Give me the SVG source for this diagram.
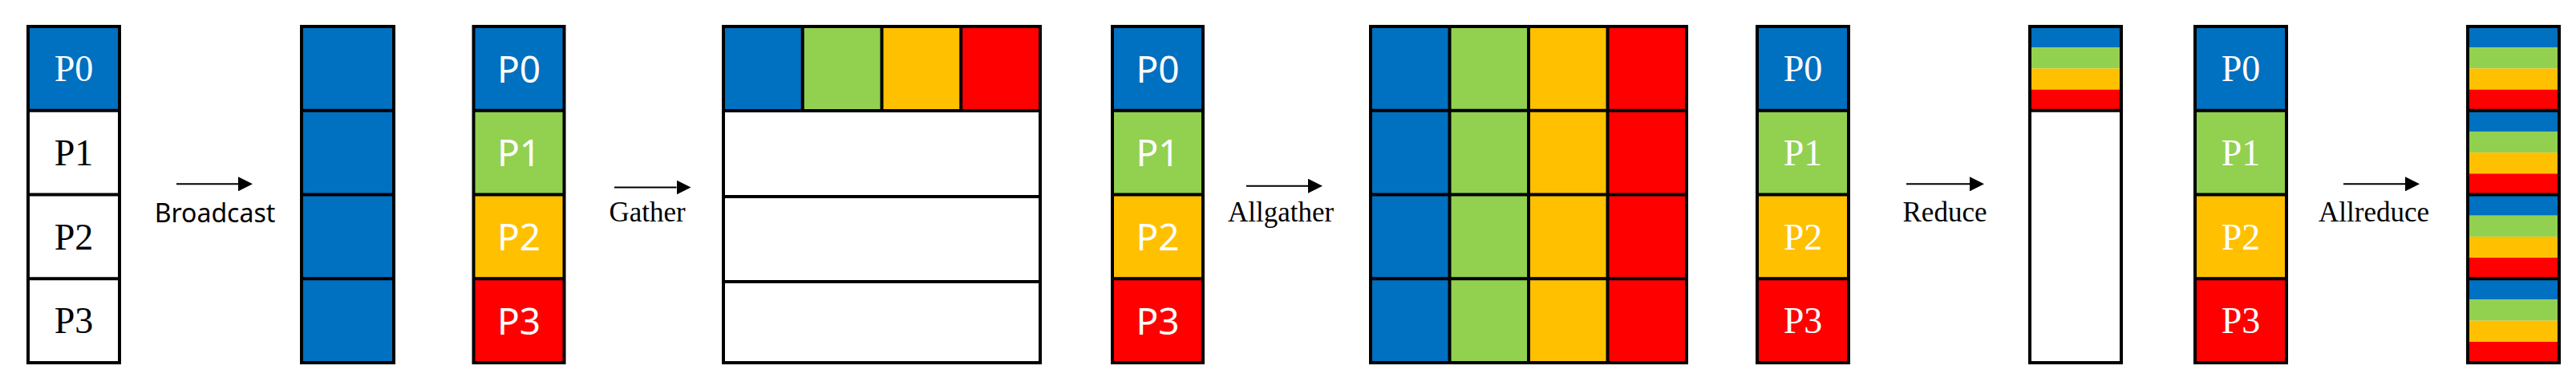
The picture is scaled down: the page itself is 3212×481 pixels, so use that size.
<svg xmlns="http://www.w3.org/2000/svg" width="3212" height="481" viewBox="0 0 3212 481">
<style>
.b{fill:#0070C0}.g{fill:#92D050}.y{fill:#FFC000}.r{fill:#FF0000}.w{fill:#FFFFFF}
.frame{fill:none;stroke:#000;stroke-width:4}
.grid{stroke:#000;stroke-width:4;fill:none}
.ps{font-family:"Liberation Serif","Times New Roman",serif;font-size:46px;text-anchor:middle}
.pn{font-family:"Noto Sans","Open Sans",sans-serif;font-size:46px;text-anchor:middle}
.lbl{font-family:"Liberation Serif","Times New Roman",serif;font-size:35px;text-anchor:middle;fill:#000}
.lbls{font-family:"Noto Sans","Open Sans",sans-serif;font-size:32px;text-anchor:middle;fill:#000}
.wt{fill:#FFFFFF}.bt{fill:#000000}
.conn{stroke:#000;stroke-width:2;fill:none}
</style>
<defs>
<marker id="arrow" viewBox="0 0 18 18" refX="0" refY="9" markerWidth="18" markerHeight="18" markerUnits="userSpaceOnUse" orient="auto">
<path d="M0,0 L18,9 L0,18 z" fill="#000"/>
</marker>
</defs>
<rect x="0" y="0" width="3212" height="481" fill="#FFFFFF"/>

<!-- Broadcast input -->
<g id="bcast-in">
<rect class="b" x="35" y="33" width="114" height="104.75"/>
<rect class="w" x="35" y="137.75" width="114" height="314.25"/>
<rect class="frame" x="35" y="33" width="114" height="419"/>
<path class="grid" d="M35,137.75H149M35,242.5H149M35,347.25H149"/>
<text class="ps wt" x="92" y="101">P0</text>
<text class="ps bt" x="92" y="206">P1</text>
<text class="ps bt" x="92" y="310.5">P2</text>
<text class="ps bt" x="92" y="415">P3</text>
</g>

<g id="bcast-out">
<rect class="b" x="376" y="33" width="115" height="419"/>
<rect class="frame" x="376" y="33" width="115" height="419"/>
<path class="grid" d="M376,137.75H491M376,242.5H491M376,347.25H491"/>
</g>

<!-- Gather -->
<g id="gather-in">
<rect class="b" x="590.5" y="33" width="113" height="104.75"/>
<rect class="g" x="590.5" y="137.75" width="113" height="104.75"/>
<rect class="y" x="590.5" y="242.5" width="113" height="104.75"/>
<rect class="r" x="590.5" y="347.25" width="113" height="104.75"/>
<rect class="frame" x="590.5" y="33" width="113" height="419"/>
<path class="grid" d="M590.5,137.75H703.5M590.5,242.5H703.5M590.5,347.25H703.5"/>
<text class="pn wt" x="647" y="102.5">P0</text>
<text class="pn wt" x="647" y="207">P1</text>
<text class="pn wt" x="647" y="312">P2</text>
<text class="pn wt" x="647" y="416.5">P3</text>
</g>

<g id="gather-out">
<rect class="b" x="902" y="33" width="98.75" height="105"/>
<rect class="g" x="1000.75" y="33" width="98.75" height="105"/>
<rect class="y" x="1099.5" y="33" width="98.75" height="105"/>
<rect class="r" x="1198.25" y="33" width="98.75" height="105"/>
<rect class="w" x="902" y="138" width="395" height="314"/>
<rect class="frame" x="902" y="33" width="395" height="419"/>
<path class="grid" d="M902,138H1297M902,245H1297M902,351H1297M1000.75,33V138M1099.5,33V138M1198.25,33V138"/>
</g>

<!-- Allgather -->
<g id="allgather-in">
<rect class="b" x="1387" y="33" width="113" height="104.75"/>
<rect class="g" x="1387" y="137.75" width="113" height="104.75"/>
<rect class="y" x="1387" y="242.5" width="113" height="104.75"/>
<rect class="r" x="1387" y="347.25" width="113" height="104.75"/>
<rect class="frame" x="1387" y="33" width="113" height="419"/>
<path class="grid" d="M1387,137.75H1500M1387,242.5H1500M1387,347.25H1500"/>
<text class="pn wt" x="1443.5" y="102.5">P0</text>
<text class="pn wt" x="1443.5" y="207">P1</text>
<text class="pn wt" x="1443.5" y="312">P2</text>
<text class="pn wt" x="1443.5" y="416.5">P3</text>
</g>

<g id="allgather-out">
<rect class="b" x="1709" y="33" width="98.5" height="419"/>
<rect class="g" x="1807.5" y="33" width="98.5" height="419"/>
<rect class="y" x="1906" y="33" width="98.5" height="419"/>
<rect class="r" x="2004.5" y="33" width="98.5" height="419"/>
<rect class="frame" x="1709" y="33" width="394" height="419"/>
<path class="grid" d="M1709,137.75H2103M1709,242.5H2103M1709,347.25H2103M1807.5,33V452M1906,33V452M2004.5,33V452"/>
</g>

<!-- Reduce -->
<g id="reduce-in">
<rect class="b" x="2191" y="33" width="114" height="104.75"/>
<rect class="g" x="2191" y="137.75" width="114" height="104.75"/>
<rect class="y" x="2191" y="242.5" width="114" height="104.75"/>
<rect class="r" x="2191" y="347.25" width="114" height="104.75"/>
<rect class="frame" x="2191" y="33" width="114" height="419"/>
<path class="grid" d="M2191,137.75H2305M2191,242.5H2305M2191,347.25H2305"/>
<text class="ps wt" x="2248" y="101">P0</text>
<text class="ps wt" x="2248" y="206">P1</text>
<text class="ps wt" x="2248" y="310.5">P2</text>
<text class="ps wt" x="2248" y="415">P3</text>
</g>

<g id="reduce-out">
<rect class="b" x="2531" y="33" width="114" height="26.2"/>
<rect class="g" x="2531" y="59.2" width="114" height="26.2"/>
<rect class="y" x="2531" y="85.4" width="114" height="26.2"/>
<rect class="r" x="2531" y="111.6" width="114" height="26.2"/>
<rect class="w" x="2531" y="137.75" width="114" height="314.25"/>
<rect class="frame" x="2531" y="33" width="114" height="419"/>
<path class="grid" d="M2531,137.75H2645"/>
</g>

<!-- Allreduce -->
<g id="allreduce-in">
<rect class="b" x="2737" y="33" width="114" height="104.75"/>
<rect class="g" x="2737" y="137.75" width="114" height="104.75"/>
<rect class="y" x="2737" y="242.5" width="114" height="104.75"/>
<rect class="r" x="2737" y="347.25" width="114" height="104.75"/>
<rect class="frame" x="2737" y="33" width="114" height="419"/>
<path class="grid" d="M2737,137.75H2851M2737,242.5H2851M2737,347.25H2851"/>
<text class="ps wt" x="2794" y="101">P0</text>
<text class="ps wt" x="2794" y="206">P1</text>
<text class="ps wt" x="2794" y="310.5">P2</text>
<text class="ps wt" x="2794" y="415">P3</text>
</g>

<g id="allreduce-out">
<rect class="b" x="3077" y="33" width="114" height="26.2"/>
<rect class="g" x="3077" y="59.2" width="114" height="26.2"/>
<rect class="y" x="3077" y="85.4" width="114" height="26.2"/>
<rect class="r" x="3077" y="111.6" width="114" height="26.2"/>
<rect class="b" x="3077" y="137.75" width="114" height="26.2"/>
<rect class="g" x="3077" y="163.95" width="114" height="26.2"/>
<rect class="y" x="3077" y="190.15" width="114" height="26.2"/>
<rect class="r" x="3077" y="216.35" width="114" height="26.2"/>
<rect class="b" x="3077" y="242.5" width="114" height="26.2"/>
<rect class="g" x="3077" y="268.7" width="114" height="26.2"/>
<rect class="y" x="3077" y="294.9" width="114" height="26.2"/>
<rect class="r" x="3077" y="321.1" width="114" height="26.2"/>
<rect class="b" x="3077" y="347.25" width="114" height="26.2"/>
<rect class="g" x="3077" y="373.45" width="114" height="26.2"/>
<rect class="y" x="3077" y="399.65" width="114" height="26.2"/>
<rect class="r" x="3077" y="425.85" width="114" height="26.15"/>
<rect class="frame" x="3077" y="33" width="114" height="419"/>
<path class="grid" d="M3077,137.75H3191M3077,242.5H3191M3077,347.25H3191"/>
</g>

<!-- Connectors -->
<g id="connectors">
<path class="conn" d="M220,229.3H297" marker-end="url(#arrow)"/>
<path class="conn" d="M766,233.5H843.5" marker-end="url(#arrow)"/>
<path class="conn" d="M1554,231.7H1631" marker-end="url(#arrow)"/>
<path class="conn" d="M2377,229.3H2456" marker-end="url(#arrow)"/>
<path class="conn" d="M2922,229.3H2999" marker-end="url(#arrow)"/>
<text class="lbls" x="268" y="277.3">Broadcast</text>
<text class="lbl" x="807" y="275.7">Gather</text>
<text class="lbl" x="1597" y="275.7">Allgather</text>
<text class="lbl" x="2425" y="275.7">Reduce</text>
<text class="lbl" x="2960" y="275.7">Allreduce</text>
</g>
</svg>
